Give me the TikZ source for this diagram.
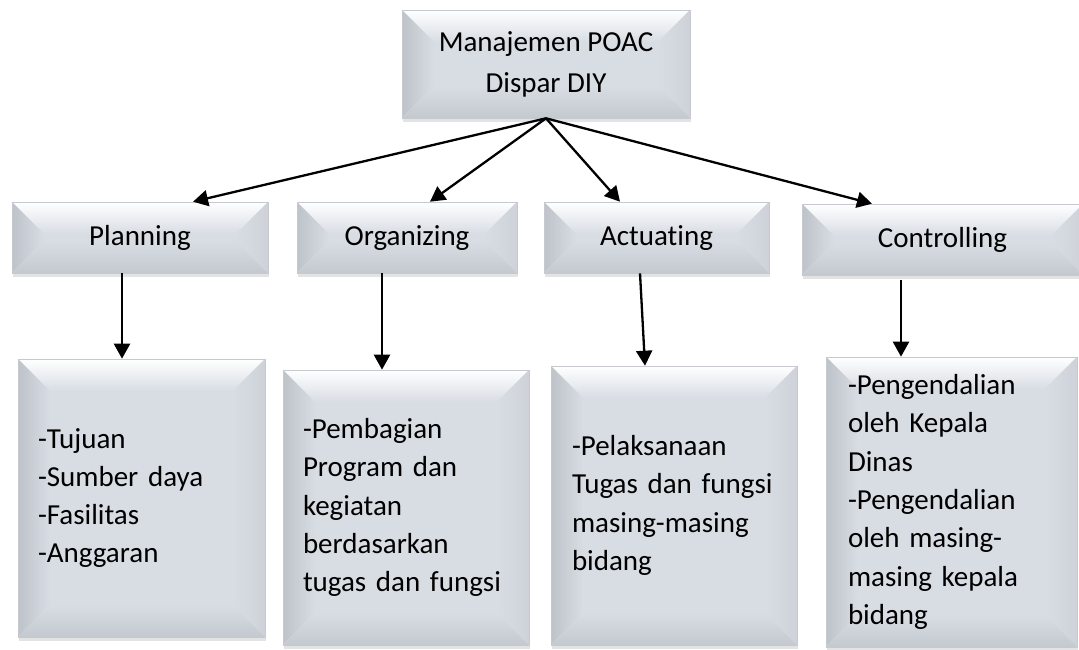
\documentclass[tikz,border=0pt]{standalone}
\usepackage{fontspec}
\setmainfont{Carlito}[Ligatures=CommonOff]
\usepackage{tikz}
\usetikzlibrary{shadows}
\usetikzlibrary{arrows.meta}
\usepackage{xcolor}
\definecolor{face}{RGB}{216,221,228}
\definecolor{bevleft}{RGB}{190,194,201}
\definecolor{bevright}{RGB}{206,210,216}
\definecolor{bevbottom}{RGB}{196,200,207}
\definecolor{rim}{RGB}{198,202,208}

\tikzset{
  bevelbox/.style={fill=face, draw=rim, line width=0.6pt, inner sep=0pt,
    drop shadow={shadow xshift=1pt, shadow yshift=-4pt, opacity=0.22},
    path picture={
      \coordinate (bnw) at (path picture bounding box.north west);
      \coordinate (bne) at (path picture bounding box.north east);
      \coordinate (bsw) at (path picture bounding box.south west);
      \coordinate (bse) at (path picture bounding box.south east);
      \fill[top color=white, bottom color=face] (bnw) -- (bne) -- ([shift={(-32pt,-32pt)}]bne) -- ([shift={(32pt,-32pt)}]bnw) -- cycle;
      \fill[left color=bevleft, right color=face] (bnw) -- ([shift={(32pt,-32pt)}]bnw) -- ([shift={(32pt,32pt)}]bsw) -- (bsw) -- cycle;
      \fill[left color=face, right color=bevright] (bne) -- ([shift={(-32pt,-32pt)}]bne) -- ([shift={(-32pt,32pt)}]bse) -- (bse) -- cycle;
      \fill[top color=face, bottom color=bevbottom] (bsw) -- ([shift={(32pt,32pt)}]bsw) -- ([shift={(-32pt,32pt)}]bse) -- (bse) -- cycle;
    }},
  headbox/.style={bevelbox, minimum width=288pt, minimum height=108pt, align=center, font=\fontsize{29}{41}\selectfont},
  phasebox/.style={bevelbox, minimum height=71pt, text height=20pt, text depth=5pt, font=\fontsize{29}{38}\selectfont},
  detailbox/.style={bevelbox, align=left, font=\fontsize{29}{38.3}\selectfont},
  arr/.style={-{Triangle[length=15pt,width=16pt]}, line width=2.3pt}
}

\begin{document}
\begin{tikzpicture}[x=1pt,y=-1pt]
  \useasboundingbox (0,0) rectangle (1079,649);

  \node[headbox] (poac) at (546,64) {Manajemen POAC\\Dispar DIY};

  \node[phasebox, minimum width=256pt] (plan) at (140,237.5) {Planning};
  \node[phasebox, minimum width=220pt] (org) at (407,237.5) {Organizing};
  \node[phasebox, minimum width=225pt] (act) at (656.5,237.5) {Actuating};
  \node[phasebox, minimum width=281pt] (ctrl) at (942.5,239.5) {Controlling};

  \node[detailbox, minimum width=247pt, minimum height=278pt, text width=207pt] (pland) at (141.5,498)
    {-Tujuan\\-Sumber daya\\-Fasilitas\\-Anggaran};
  \node[detailbox, minimum width=246pt, minimum height=275pt, text width=206pt] (orgd) at (406,507.5)
    {-Pembagian\\Program dan\\kegiatan\\berdasarkan\\tugas dan fungsi};
  \node[detailbox, minimum width=246pt, minimum height=279pt, text width=204pt] (actd) at (674,505.5)
    {-Pelaksanaan\\Tugas dan fungsi\\masing-masing\\bidang};
  \node[detailbox, minimum width=251pt, minimum height=290pt, text width=207pt] (ctrld) at (951.5,502)
    {-Pengendalian\\oleh Kepala\\Dinas\\-Pengendalian\\oleh masing-\\masing kepala\\bidang};

  % top to phases
  \draw[arr] (poac.south) -- ([xshift=53]plan.north);
  \draw[arr] (poac.south) -- ([xshift=23]org.north);
  \draw[arr] (poac.south) -- ([xshift=-36.5]act.north);
  \draw[arr] (poac.south) -- ([xshift=-70.5]ctrl.north);

  % phases to details
  \draw[arr] ([xshift=-18]plan.south) -- ([xshift=-19.5]pland.north);
  \draw[arr] ([xshift=-25]org.south) -- ([xshift=-24]orgd.north);
  \draw[arr] ([xshift=-16.5]act.south) -- ([xshift=-29]actd.north);
  \draw[arr] ([xshift=-41.5,yshift=-5]ctrl.south) -- ([xshift=-50.5]ctrld.north);
\end{tikzpicture}
\end{document}
